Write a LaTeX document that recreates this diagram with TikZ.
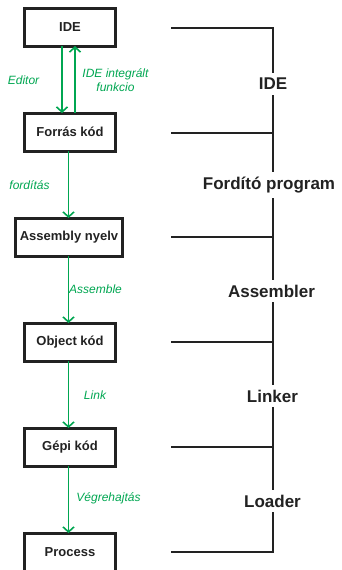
\documentclass[tikz,border=0pt]{standalone}
\usepackage{fontspec}
\setmainfont{Liberation Sans}
\usetikzlibrary{arrows.meta}
\definecolor{flowgreen}{RGB}{0,166,81}
\definecolor{ink}{RGB}{34,34,34}
\begin{document}
\begin{tikzpicture}[x=1pt,y=-1pt,
  stage/.style={draw=ink, line width=3pt, fill=white, text=ink,
    minimum width=91pt, minimum height=38pt, inner sep=0pt, outer sep=0pt,
    font=\fontsize{13}{15}\selectfont\bfseries},
  flow/.style={draw=flowgreen, line width=1.8pt,
    -{Straight Barb[length=5pt,width=11pt,line width=1.6pt]}},
  steplabel/.style={text=flowgreen, inner sep=0pt,
    font=\fontsize{12}{14}\selectfont\itshape},
  toollabel/.style={fill=white, text=ink, inner xsep=1pt, inner ysep=5pt,
    font=\fontsize{17}{19}\selectfont\bfseries},
  bracket/.style={draw=ink, line width=2pt}]
\useasboundingbox (0,0) rectangle (341,570);

% stages of the build chain
\node[stage] (ide) at (70,27) {IDE};
\node[stage] (src) at (70,132) {Forrás kód};
\node[stage, minimum width=107pt] (asm) at (69,237) {Assembly nyelv};
\node[stage] (obj) at (70,342) {Object kód};
\node[stage] (bin) at (70,447) {Gépi kód};
\node[stage] (proc) at (70,552) {Process};

% transitions between stages
\draw[flow] ([xshift=-8pt]ide.south) -- ([xshift=-8pt]src.north);
\draw[flow] ([xshift=5pt]src.north) -- ([xshift=5pt]ide.south);
\draw[flow] ([xshift=-1.5pt]src.south) -- ([xshift=-0.5pt]asm.north);
\draw[flow] ([xshift=-0.5pt]asm.south) -- ([xshift=-1.5pt]obj.north);
\draw[flow] ([xshift=-1.5pt]obj.south) -- ([xshift=-1.5pt]bin.north);
\draw[flow] ([xshift=-1.5pt]bin.south) -- ([xshift=-1.5pt]proc.north);

\node[steplabel] (lEditor) at (23.5,80) {Editor};
\node[steplabel, align=center] (lIntegr) at (115.5,80.5) {IDE integrált\\funkcio};
\node[steplabel] (lFord) at (29.5,185) {fordítás};
\node[steplabel] (lAsm) at (95.5,289) {Assemble};
\node[steplabel] (lLink) at (95,395) {Link};
\node[steplabel] (lExec) at (108.5,498) {Végrehajtás};

% bracket on the right grouping the stages by tool
\coordinate (bIde) at (273,28);
\coordinate (bSrc) at (273,133);
\coordinate (bAsm) at (273,237);
\coordinate (bObj) at (273,342);
\coordinate (bBin) at (273,447);
\coordinate (bProc) at (273,552);
\coordinate (tIde) at (171,28);
\coordinate (tSrc) at (171,133);
\coordinate (tAsm) at (171,237);
\coordinate (tObj) at (171,342);
\coordinate (tBin) at (171,447);
\coordinate (tProc) at (171,552);

\draw[bracket] (tIde) -- (bIde) -- (bProc) -- (tProc);
\draw[bracket] (tSrc) -- (bSrc);
\draw[bracket] (tAsm) -- (bAsm);
\draw[bracket] (tObj) -- (bObj);
\draw[bracket] (tBin) -- (bBin);

\node[toollabel] (gIde) at (273,84) {IDE};
\node[toollabel] (gComp) at (269,185) {Fordító program};
\node[toollabel] (gAsm) at (271.5,291) {Assembler};
\node[toollabel] (gLink) at (272.5,396) {Linker};
\node[toollabel] (gLoad) at (272.5,501) {Loader};
\end{tikzpicture}
\end{document}
